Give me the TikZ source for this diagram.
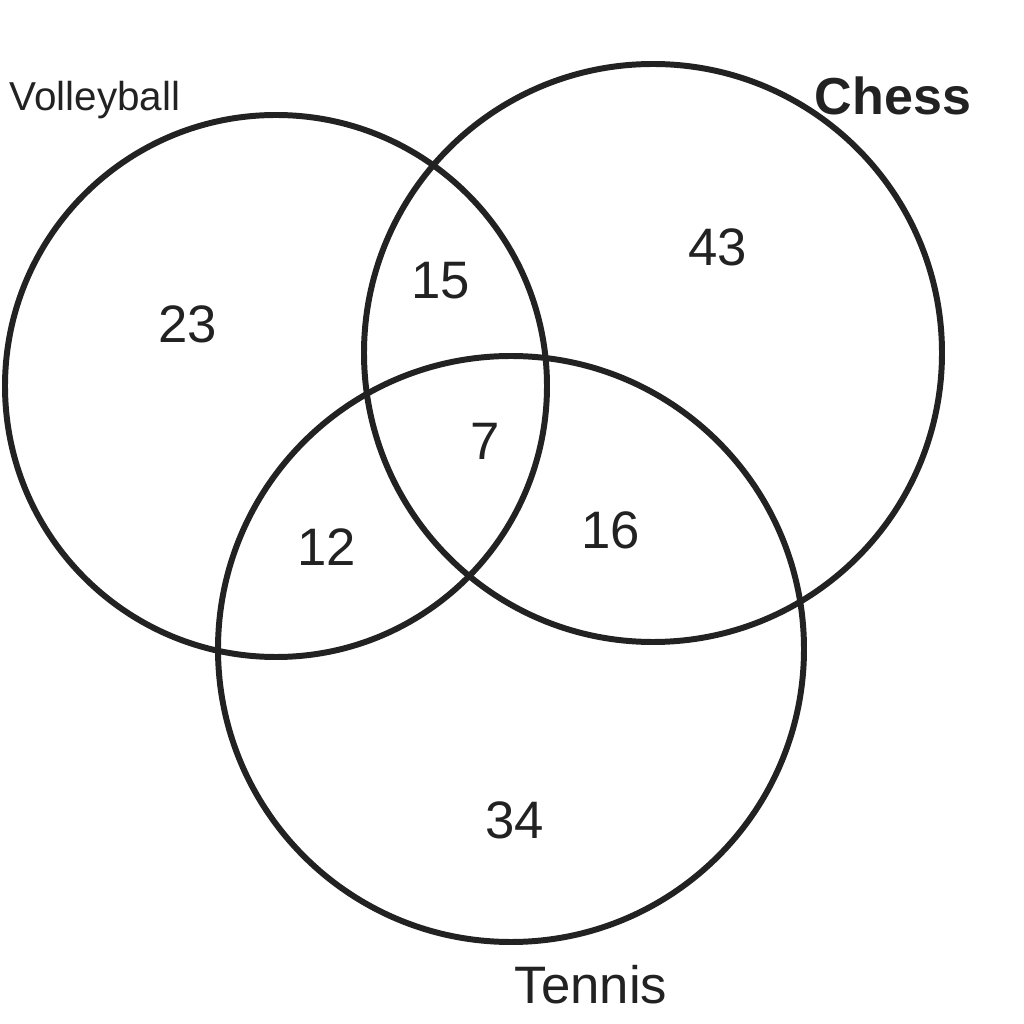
\documentclass[tikz,border=0pt]{standalone}
\usepackage{fontspec}
\setmainfont{Liberation Sans}
\definecolor{ink}{HTML}{222222}
\begin{document}
\begin{tikzpicture}[line join=round, line cap=round, font=\fontsize{15}{18}\selectfont,
  ring/.style={draw=ink, line width=1.7pt},
  num/.style={text=ink, inner sep=0pt}]
\useasboundingbox (0,0) rectangle (10.24,10.24);
\draw[ring] (2.76,6.38) circle (2.71);
\draw[ring] (6.53,6.71) circle (2.89);
\draw[ring] (5.11,3.75) circle (2.93);
\node[num, font=\fontsize{11.5}{14}\selectfont] (volley) at (0.95,9.24) {Volleyball};
\node[num, font=\fontsize{14.8}{18}\bfseries] (chess) at (8.93,9.28) {Chess};
\node[num] (tennis) at (5.91,0.39) {Tennis};
\foreach \name/\x/\y/\n in {vo/1.88/7.00/23, vc/4.41/7.43/15, co/7.18/7.77/43,
    all/4.85/5.83/7, vt/3.27/4.77/12, ct/6.11/4.94/16, te/5.15/2.04/34}
  \node[num] (\name) at (\x,\y) {\n};
\end{tikzpicture}
\end{document}
